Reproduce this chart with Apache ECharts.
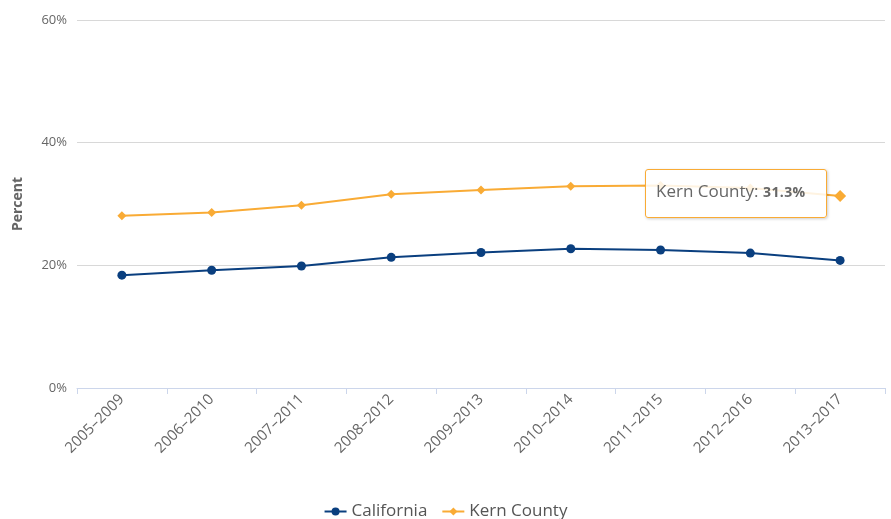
<!DOCTYPE html>
<html>
<head>
<meta charset="utf-8">
<script src="https://cdn.jsdelivr.net/npm/echarts@6/dist/echarts.min.js"></script>
<style>
  html, body { margin: 0; padding: 0; background: #fff; }
  #chart { width: 891px; height: 519px; }
</style>
</head>
<body>
<div id="chart"></div>
<script>
// Five-year estimate periods
const periods = ['2005-2009', '2006-2010', '2007-2011', '2008-2012', '2009-2013',
                 '2010-2014', '2011-2015', '2012-2016', '2013-2017'];
// Percent values per period
const california = [18.4, 19.2, 19.9, 21.3, 22.1, 22.7, 22.5, 22.0, 20.8];
const kernCounty = [28.1, 28.6, 29.8, 31.6, 32.3, 32.9, 33.0, 32.6, 31.3];
const yTicks = [0, 20, 40, 60];

const FONT = '"Open Sans", "DejaVu Sans", sans-serif';
const NAVY = '#0a3f7f';
const ORANGE = '#f9ab35';

const chart = echarts.init(document.getElementById('chart'));

const kernData = kernCounty.map((v, i) =>
  i === kernCounty.length - 1 ? { value: v, symbolSize: 12 } : v);

chart.setOption({
  animation: false,
  textStyle: { fontFamily: FONT },
  grid: { left: 77, right: 6, top: 20, bottom: 131 },
  tooltip: {
    trigger: 'item',
    alwaysShowContent: true,
    transitionDuration: 0,
    backgroundColor: 'rgba(255,255,255,0.85)',
    borderColor: ORANGE,
    borderWidth: 1,
    padding: [7, 0, 0, 10],
    extraCssText: 'width:170px;height:40px;box-sizing:content-box;border-radius:3px;box-shadow:1px 1px 3px rgba(0,0,0,0.2);line-height:28px;white-space:nowrap;',
    position: [645, 169],
    textStyle: { color: '#666', fontSize: 17, fontFamily: FONT },
    formatter: p => p.seriesName + ': <span style="font-size:14px;font-weight:bold;letter-spacing:0.4px">' + p.value + '%</span>'
  },
  legend: {
    top: 498,
    left: 'center',
    itemWidth: 22,
    itemHeight: 10,
    itemGap: 14,
    textStyle: { color: '#555', fontSize: 17, fontFamily: FONT },
    data: ['California', 'Kern County']
  },
  xAxis: {
    type: 'category',
    data: periods,
    boundaryGap: true,
    axisLine: { lineStyle: { color: '#ccd6eb', width: 1 } },
    axisTick: { show: true, length: 6, alignWithLabel: false, lineStyle: { color: '#ccd6eb' } },
    axisLabel: {
      rotate: 45, color: '#666', fontSize: 15, margin: 9, interval: 0,
      formatter: v => v.replace('-', '–')
    }
  },
  yAxis: {
    type: 'value',
    min: 0, max: 60, interval: 20,
    name: 'Percent',
    nameLocation: 'middle',
    nameGap: 52,
    nameTextStyle: { color: '#666', fontSize: 14, fontWeight: 'bold', fontFamily: FONT },
    axisLabel: { color: '#666', fontSize: 13, margin: 10, formatter: v => yTicks.includes(v) ? v + '%' : '' },
    axisLine: { show: false },
    axisTick: { show: false },
    splitLine: { lineStyle: { color: '#d8d8d8', width: 1 } }
  },
  series: [
    {
      name: 'California',
      type: 'line',
      data: california,
      symbol: 'circle',
      symbolSize: 9,
      itemStyle: { color: NAVY },
      lineStyle: { color: NAVY, width: 2 },
      z: 3
    },
    {
      name: 'Kern County',
      type: 'line',
      data: kernData,
      symbol: 'diamond',
      symbolSize: 9,
      itemStyle: { color: ORANGE },
      lineStyle: { color: ORANGE, width: 2 },
      z: 2
    }
  ]
});

chart.dispatchAction({ type: 'showTip', seriesIndex: 1, dataIndex: kernCounty.length - 1 });
</script>
</body>
</html>
